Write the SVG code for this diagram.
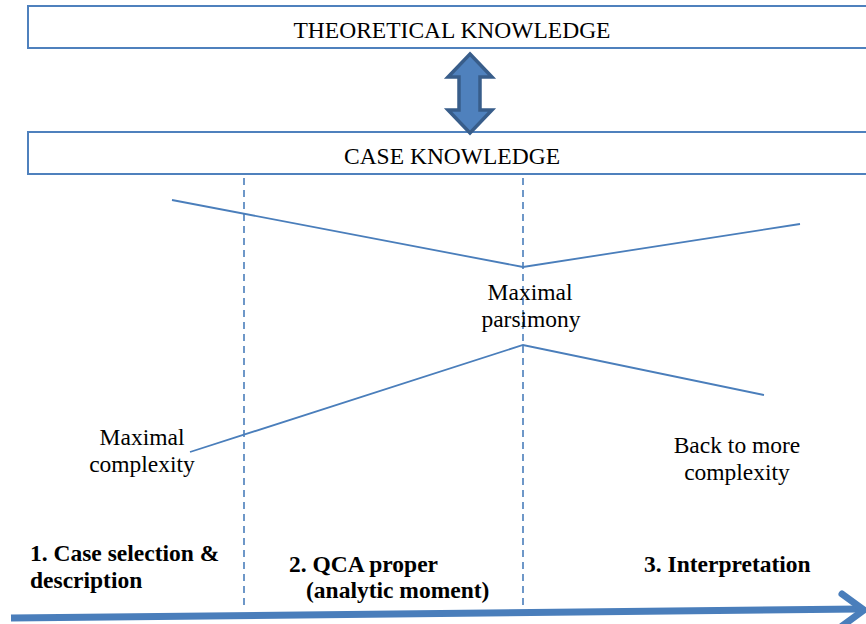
<svg xmlns="http://www.w3.org/2000/svg" width="866" height="624" viewBox="0 0 866 624">
<style>
.box{fill:#fff;stroke:#4F81BD;stroke-width:2}
.ln{fill:none;stroke:#4A7EBB;stroke-width:1.8}
.dash{fill:none;stroke:#4A7EBB;stroke-width:1.6;stroke-dasharray:7 5}
</style>
<rect width="866" height="624" fill="#fff"/>
<g font-family="Liberation Serif, Times New Roman, DejaVu Serif, serif" font-size="23.5" fill="#000">
<g id="theoretical" text-anchor="middle">
<rect class="box" x="28" y="6" width="860" height="42"/>
<text x="452" y="38">THEORETICAL KNOWLEDGE</text>
</g>
<g id="case" text-anchor="middle">
<rect class="box" x="28" y="132" width="860" height="42"/>
<text x="452" y="164">CASE KNOWLEDGE</text>
</g>
<g id="double-arrow">
<polygon points="470,54 492,77 480,77 480,110 492,110 470,133 448,110 459,110 459,77 448,77" fill="#4F81BD" stroke="#385D8A" stroke-width="3.5" stroke-linejoin="miter"/>
</g>
<g id="connectors">
<line class="dash" x1="244" y1="178" x2="244" y2="610"/>
<line class="dash" x1="523" y1="178" x2="523" y2="605"/>
<polyline class="ln" points="172,200 523,267 800,224"/>
<polyline class="ln" points="190,452 523,345 764,395"/>
<line x1="11" y1="618" x2="860" y2="609" stroke="#4A7EBB" stroke-width="7"/>
<polyline points="842,594 864,610 842,626" fill="none" stroke="#4A7EBB" stroke-width="7" stroke-linecap="round" stroke-linejoin="round"/>
</g>
<g id="parsimony" text-anchor="middle">
<text x="530" y="300">Maximal</text>
<text x="531" y="327">parsimony</text>
</g>
<g id="complexity" text-anchor="middle">
<text x="142" y="445">Maximal</text>
<text x="142" y="472">complexity</text>
</g>
<g id="back" text-anchor="middle">
<text x="737" y="453">Back to more</text>
<text x="737" y="480">complexity</text>
</g>
<g id="phase1" font-weight="bold">
<text x="30" y="561">1. Case selection &amp;</text>
<text x="30" y="588">description</text>
</g>
<g id="phase2" font-weight="bold">
<text x="289" y="572">2. QCA proper</text>
<text x="306" y="598">(analytic moment)</text>
</g>
<g id="phase3" font-weight="bold">
<text x="644" y="572">3. Interpretation</text>
</g>
</g>
</svg>
